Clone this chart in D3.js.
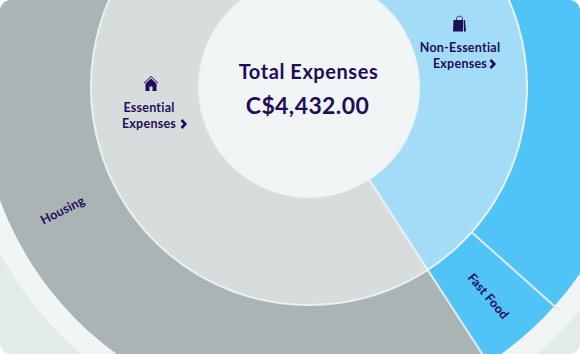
<!DOCTYPE html>
<html>
<head>
<meta charset="utf-8">
<script src="https://cdn.jsdelivr.net/npm/d3@7"></script>
<style>
  html, body { margin: 0; background: #fff; }
  svg { display: block; }
  text { font-family: Lato, "Noto Sans", sans-serif; fill: #1f0d5a; }
</style>
</head>
<body>
<svg></svg>
<script>
var w = 580, h = 354;
var cx = 309, cy = 87;
var rad = Math.PI / 180;

// inner ring
var groups = ["Non-Essential", "Essential"];
var groupValues = [1810, 2622];
var groupColors = ["#a3dcf7", "#d7dcdc"];
// outer ring, same order round the circle. only two labels are in view
var cats = ["Other Non-Essential", "Fast Food", "Housing", "Other Essential"];
var catValues = [1622, 188, 2374, 248];
var catColors = ["#50c3f7", "#50c3f7", "#abb4b4", "#abb4b4"];
var catLabels = ["", "Fast Food", "Housing", ""];
var totalLabel = "Total Expenses";
var totalValue = "C$4,432.00";

var svg = d3.select("svg")
    .attr("width", w)
    .attr("height", h);

svg.append("clipPath").attr("id", "card")
    .append("rect")
    .attr("width", w)
    .attr("height", h)
    .attr("rx", 11);

var card = svg.append("g").attr("clip-path", "url(#card)");

card.append("rect")
    .attr("width", w)
    .attr("height", h)
    .attr("fill", "#e3eaea");

var g = card.append("g").attr("transform", "translate(" + cx + "," + cy + ")");

var pie = d3.pie().sort(null).value(function (d) { return d; });
var groupArcs = pie(groupValues);
var catArcs = pie(catValues);

var bandArc = d3.arc().innerRadius(0).outerRadius(351);
var outerArc = d3.arc().innerRadius(218).outerRadius(329);
var middleArc = d3.arc().innerRadius(110).outerRadius(218);
var labelArc = d3.arc().innerRadius(220).outerRadius(331);

// pale band behind the outer ring
g.append("path")
    .attr("d", bandArc({ startAngle: 0, endAngle: 2 * Math.PI }))
    .attr("fill", "#f1f5f6");

// outer ring, with the separators running a little into the band
g.selectAll(".cat")
    .data(catArcs)
    .join("path")
    .attr("class", "cat")
    .attr("d", outerArc)
    .attr("fill", function (d, i) { return catColors[i]; });

var sepScale = d3.scaleLinear().domain([0, 1]).range([218, 337]);
g.selectAll(".sep")
    .data(catArcs)
    .join("line")
    .attr("class", "sep")
    .attr("x1", function (d) { return sepScale(0) * Math.sin(d.endAngle); })
    .attr("y1", function (d) { return -sepScale(0) * Math.cos(d.endAngle); })
    .attr("x2", function (d) { return sepScale(1) * Math.sin(d.endAngle); })
    .attr("y2", function (d) { return -sepScale(1) * Math.cos(d.endAngle); })
    .attr("stroke", "#e3eaea")
    .attr("stroke-width", 2);

// middle ring
g.selectAll(".group")
    .data(groupArcs)
    .join("path")
    .attr("class", "group")
    .attr("d", middleArc)
    .attr("fill", function (d, i) { return groupColors[i]; })
    .attr("stroke", "#eaf0f1")
    .attr("stroke-width", 2);

g.append("circle")
    .attr("r", 110)
    .attr("fill", "#f1f5f6");

// labels of the outer ring read along the radius
g.selectAll(".cat-label")
    .data(catArcs)
    .join("text")
    .attr("class", "cat-label")
    .attr("text-anchor", "middle")
    .attr("dy", "0.35em")
    .attr("font-size", 12.5)
    .attr("font-weight", 700)
    .attr("letter-spacing", 0.2)
    .attr("transform", function (d) {
        var c = labelArc.centroid(d);
        var mid = (d.startAngle + d.endAngle) / 2 / rad;
        var rot = mid < 180 ? mid - 90 : mid + 90;
        return "translate(" + c[0] + "," + c[1] + ")rotate(" + rot + ")";
    })
    .text(function (d, i) { return catLabels[i]; });

// centre
svg.append("text")
    .attr("x", 308.5).attr("y", 79)
    .attr("text-anchor", "middle")
    .attr("font-size", 20)
    .attr("font-weight", 700)
    .attr("letter-spacing", 0.55)
    .text(totalLabel);

svg.append("text")
    .attr("x", 307.5).attr("y", 114)
    .attr("text-anchor", "middle")
    .attr("font-size", 23)
    .attr("font-weight", 700)
    .attr("letter-spacing", 0.4)
    .text(totalValue);

function chevron(x, y) {
    svg.append("path")
        .attr("transform", "translate(" + x + "," + y + ")")
        .attr("d", "M0,-4 L3.8,0 L0,4")
        .attr("fill", "none")
        .attr("stroke", "#1f0d5a")
        .attr("stroke-width", 2.6);
}

function groupLabel(x, y1, y2, line1, line2) {
    svg.append("text").attr("x", x).attr("y", y1)
        .attr("text-anchor", "middle")
        .attr("font-size", 12.5).attr("font-weight", 700)
        .attr("letter-spacing", 0.25)
        .text(line1);
    svg.append("text").attr("x", x).attr("y", y2)
        .attr("text-anchor", "middle")
        .attr("font-size", 12.5).attr("font-weight", 700)
        .attr("letter-spacing", 0.25)
        .text(line2);
}

groupLabel(149, 112, 128, groups[1], "Expenses");
chevron(181.5, 124);
groupLabel(460, 52, 68, groups[0], "Expenses");
chevron(490.5, 64);

// house icon
svg.append("path")
    .attr("d", "M151,78.5 L145.5,83.5 L145.5,91 L149.5,91 L149.5,86.5 L152.5,86.5 L152.5,91 L156.5,91 L156.5,83.5 Z")
    .attr("fill", "#1f0d5a");
svg.append("path")
    .attr("d", "M144,83 L151,76.5 L158,83")
    .attr("fill", "none")
    .attr("stroke", "#1f0d5a")
    .attr("stroke-width", 1);

// shopping bag icon
svg.append("path")
    .attr("d", "M453.5,20 L463,20 L463,31.5 L453,31.5 Z")
    .attr("fill", "#1f0d5a");
svg.append("path")
    .attr("d", "M463.6,20 L465,20 L466,31.5 L464,31.5 Z")
    .attr("fill", "#1f0d5a");
svg.append("path")
    .attr("d", "M456.5,22 L456.5,18.5 C456.5,15.5 462.5,15.5 462.5,18.5 L462.5,22")
    .attr("fill", "none")
    .attr("stroke", "#1f0d5a")
    .attr("stroke-width", 0.8);
</script>
</body>
</html>
